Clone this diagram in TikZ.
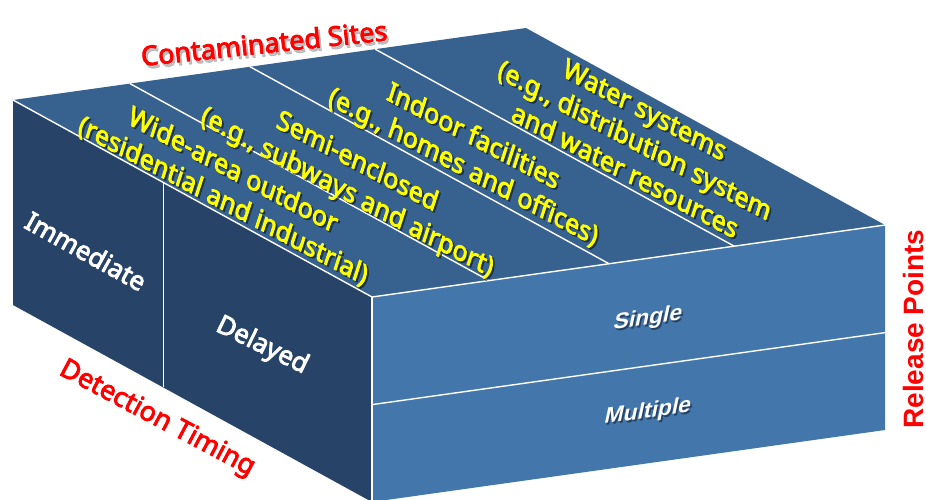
\documentclass[tikz,border=0pt]{standalone}
\usepackage{fontspec}
\setmainfont{Noto Sans}
\newfontfamily\heavyfont{Noto Sans}[FakeBold=3.2]
\newfontfamily\arialfont{Liberation Sans}
\usetikzlibrary{calc}

\definecolor{topface}{RGB}{55,97,142}
\definecolor{leftface}{RGB}{39,68,104}
\definecolor{rightface}{RGB}{67,118,171}
\definecolor{titlered}{RGB}{255,0,0}
\definecolor{labelyellow}{RGB}{255,255,0}
\definecolor{textshade}{RGB}{12,24,45}
\definecolor{titleshade}{RGB}{160,160,160}

\tikzset{
  faceedge/.style={draw=white, line width=1.4pt},
  sitelabel/.style={text=labelyellow, font=\heavyfont\fontsize{26.5}{32}\selectfont,
    align=center, inner sep=0pt, cm={0.883,-0.469,0.309,0.951,(0,0)}},
  sideshade/.style={text=textshade, opacity=0.55},
  axistitle/.style={text=titlered, font=\heavyfont\fontsize{27}{32}\selectfont, inner sep=0pt},
  timinglabel/.style={text=white, font=\heavyfont\fontsize{26}{30}\selectfont, inner sep=0pt},
  releaselabel/.style={text=white, font=\arialfont\bfseries\fontsize{23}{27}\selectfont,
    inner sep=0pt, cm={0.991,0.131,0.208,0.978,(0,0)}},
}

\begin{document}
\begin{tikzpicture}[x=1pt, y=-1pt]
\useasboundingbox (0,0) rectangle (926,499);

% corners of the block
\coordinate (A)  at (13,100);
\coordinate (B)  at (372,297);
\coordinate (C)  at (885,225);
\coordinate (D)  at (526,28);
\coordinate (A2) at (13,305);
\coordinate (B2) at (372,502);
\coordinate (C2) at (885,430);

% faces
\fill[leftface]  (A) -- (B) -- (B2) -- (A2) -- cycle;
\fill[rightface] (B) -- (C) -- (C2) -- (B2) -- cycle;
\fill[topface]   (A) -- (D) -- (C) -- (B) -- cycle;

% strips of the top face
\foreach \t [count=\i] in {0.228,0.462,0.706} {
  \coordinate (P\i) at ($(A)!\t!(D)$);
  \coordinate (Q\i) at ($(B)!\t!(C)$);
  \draw[faceedge] (P\i) -- (Q\i);
}

% front edges
\draw[faceedge] (A) -- (B) -- (C);
\draw[faceedge] (B) -- (B2);

% split of the left face
\coordinate (L1) at ($(A)!0.418!(B)$);
\coordinate (L2) at ($(A2)!0.418!(B2)$);
\draw[faceedge, line width=1pt] (L1) -- (L2);

% split of the right face
\coordinate (R1) at ($(B)!0.525!(B2)$);
\coordinate (R2) at ($(C)!0.525!(C2)$);
\draw[faceedge] (R1) -- (R2);

% site categories on the top face
\coordinate (s1) at (228,186);
\coordinate (s2) at (352,178);
\coordinate (s3) at (468,153);
\coordinate (s4) at (635,140);

\node[sitelabel, sideshade] (s1shade) at ([shift={(1.8,1.8)}]s1) {Wide-area outdoor\\(residential and industrial)};
\node[sitelabel] (s1text) at (s1) {Wide-area outdoor\\(residential and industrial)};
\node[sitelabel, sideshade] (s2shade) at ([shift={(1.8,1.8)}]s2) {Semi-enclosed\\(e.g., subways and airport)};
\node[sitelabel] (s2text) at (s2) {Semi-enclosed\\(e.g., subways and airport)};
\node[sitelabel, sideshade] (s3shade) at ([shift={(1.8,1.8)}]s3) {Indoor facilities\\(e.g., homes and offices)};
\node[sitelabel] (s3text) at (s3) {Indoor facilities\\(e.g., homes and offices)};
\node[sitelabel, sideshade] (s4shade) at ([shift={(1.8,1.8)}]s4) {Water systems\\(e.g., distribution system\\and water resources};
\node[sitelabel] (s4text) at (s4) {Water systems\\(e.g., distribution system\\and water resources};

% detection timing on the left face
\node[timinglabel, rotate=-29] (immediate) at (86,251) {Immediate};
\node[timinglabel, rotate=-26] (delayed) at (262,346) {Delayed};

% release points on the right face
\node[releaselabel, sideshade] (singleshade) at (649.5,321) {Single};
\node[releaselabel] (single) at (648,319) {Single};
\node[releaselabel, sideshade] (multipleshade) at (649.5,414) {Multiple};
\node[releaselabel] (multiple) at (648,412) {Multiple};

% axis titles
\node[axistitle, text=titleshade, opacity=0.6, rotate=6] (sitesshade) at (266,46) {Contaminated Sites};
\node[axistitle, rotate=6] (sites) at (264,43) {Contaminated Sites};
\node[axistitle, rotate=-28] (timing) at (157,419) {Detection Timing};
\node[axistitle, font=\arialfont\bfseries\fontsize{28}{32}\selectfont, rotate=90] (release) at (913,329) {Release Points};
\end{tikzpicture}
\end{document}
